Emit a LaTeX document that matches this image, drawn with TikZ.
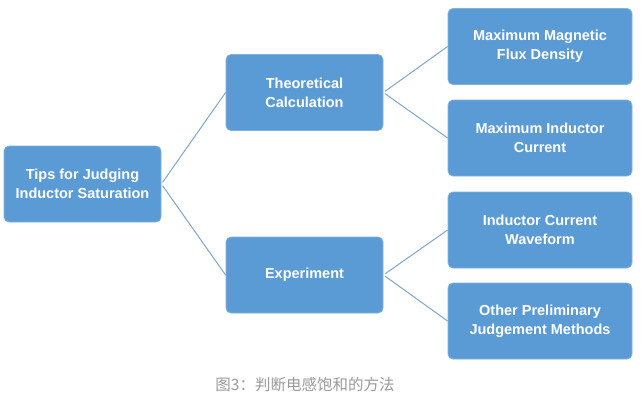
\documentclass[tikz,border=0pt]{standalone}
\usepackage{fontspec}
\setmainfont{Liberation Sans}
\newfontfamily\cjk{Noto Sans CJK SC}
\definecolor{boxblue}{HTML}{5B9BD5}
\definecolor{boxedge}{HTML}{7FB0DE}
\definecolor{linkblue}{HTML}{7EA6CC}
\definecolor{capgray}{HTML}{9A9A9A}
\tikzset{
  tipbox/.style={draw=boxedge,line width=0.8pt,rounded corners=5pt,fill=boxblue,
    text=white,font=\fontsize{14.5}{19}\selectfont\bfseries,align=center,
    minimum height=76pt,inner sep=0pt},
  link/.style={linkblue,line width=1pt,shorten <=2pt}
}

\begin{document}
\begin{tikzpicture}[x=1pt,y=-1pt]
% Background
\fill[white] (0,0) rectangle (643,400);
\useasboundingbox (0,0) rectangle (643,400);
% Root
\node[tipbox,minimum width=157pt] (tips) at (82.5,184) {Tips for Judging\\Inductor Saturation};
% Second level
\node[tipbox,minimum width=157pt] (theo) at (304.5,92.5) {Theoretical\\Calculation};
\node[tipbox,minimum width=157pt] (expt) at (304.5,275) {Experiment};
% Leaves
\node[tipbox,minimum width=184pt] (flux) at (540,46.5) {Maximum Magnetic\\Flux Density};
\node[tipbox,minimum width=184pt] (curr) at (540,138) {Maximum Inductor\\Current};
\node[tipbox,minimum width=184pt] (wave) at (540,230) {Inductor Current\\Waveform};
\node[tipbox,minimum width=184pt] (other) at (540,321) {Other Preliminary\\Judgement Methods};
% Links
\draw[link] (tips.east) -- (theo.west);
\draw[link] (tips.east) -- (expt.west);
\draw[link] (theo.east) -- (flux.west);
\draw[link] (theo.east) -- (curr.west);
\draw[link] (expt.east) -- (wave.west);
\draw[link] (expt.east) -- (other.west);
% Caption
\node[font=\cjk\fontsize{15.5}{18}\selectfont,text=capgray] (cap) at (305,385) {图3：判断电感饱和的方法};
\end{tikzpicture}
\end{document}
